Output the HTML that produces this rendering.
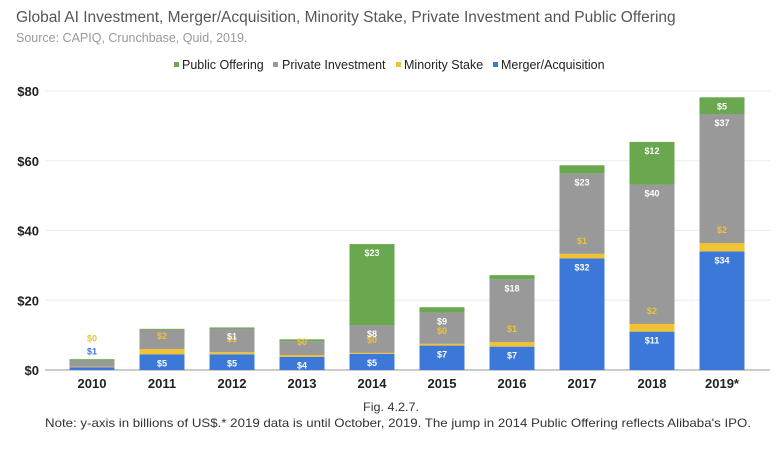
<!DOCTYPE html>
<html><head><meta charset="utf-8"><style>
body{margin:0;background:#fff;}
svg{display:block;font-family:"Liberation Sans",Arial,sans-serif;}
</style></head><body>
<svg id="chart" width="782" height="450" viewBox="0 0 782 450" xmlns="http://www.w3.org/2000/svg">
<text x="16" y="22" font-size="15.5" fill="#555">Global AI Investment, Merger/Acquisition, Minority Stake, Private Investment and Public Offering</text>
<text x="16" y="42" font-size="12.5" fill="#999">Source: CAPIQ, Crunchbase, Quid, 2019.</text>
<g font-size="12.5" fill="#222">
<g><rect x="174" y="62" width="5" height="5" fill="#6aa84f"/><text x="182" y="69">Public Offering</text></g>
<g><rect x="273" y="62" width="5" height="5" fill="#999"/><text x="282" y="69">Private Investment</text></g>
<g><rect x="396" y="62" width="5" height="5" fill="#f1c232"/><text x="404" y="69">Minority Stake</text></g>
<g><rect x="493" y="62" width="5" height="5" fill="#3c78d8"/><text x="501" y="69">Merger/Acquisition</text></g>
</g>
<g id="grid"></g>
<g id="bars"></g>
<g id="labels"></g>
<text x="391" y="411" font-size="12" fill="#333" text-anchor="middle" textLength="56" lengthAdjust="spacingAndGlyphs">Fig. 4.2.7.</text>
<text x="45" y="427" font-size="12" fill="#333" textLength="706" lengthAdjust="spacingAndGlyphs">Note:  y-axis in billions of US$.* 2019 data is until October, 2019. The jump in 2014 Public Offering reflects Alibaba's IPO.</text>
</svg>
<script>
const years = ["2010","2011","2012","2013","2014","2015","2016","2017","2018","2019*"];
const mergerAcq = [0.8,4.5,4.5,3.8,4.6,7.0,6.7,32.0,11.0,34.0];
const minorityStake = [0.1,1.5,0.6,0.5,0.3,0.5,1.3,1.3,2.2,2.4];
const privateInv = [1.8,5.5,6.8,4.0,8.0,9.0,18.0,23.0,40.0,37.0];
const publicOff = [0.4,0.3,0.3,0.5,23.2,1.5,1.2,2.4,12.2,4.8];
const maLabels = ["$1","$5","$5","$4","$5","$7","$7","$32","$11","$34"];
const msLabels = ["$0","$2","$1","$0","$0","$0","$1","$1","$2","$2"];
const piLabels = ["","","","","$8","$9","$18","$23","$40","$37"];
const poLabels = ["","","$1","","$23","","","","$12","$5"];
const yTicks = [0,20,40,60,80];
const yTickLabels = ["$0","$20","$40","$60","$80"];

const NS="http://www.w3.org/2000/svg";
const x0=45, x1=770, yBase=370, yTop=91, yMax=80;
const step=70, bw=45, firstCenter=92;
const y=v=>yBase-(v/yMax)*(yBase-yTop);
const xc=i=>firstCenter+step*i;
function mk(tag,parent){const e=document.createElementNS(NS,tag);parent.appendChild(e);return e;}
const grid=document.getElementById('grid'),bars=document.getElementById('bars'),labels=document.getElementById('labels');
yTicks.forEach((t,i)=>{
  const l=mk('line',grid);
  
  
  l.setAttribute('x1',x0);l.setAttribute('x2',x1);l.setAttribute('y1',y(t));l.setAttribute('y2',y(t));
  l.setAttribute('stroke',t===0?'#999':'#ececec');l.setAttribute('stroke-width','1');
  const tx=mk('text',grid);
  
  
  tx.setAttribute('x',39);tx.setAttribute('y',y(t)+5);tx.setAttribute('text-anchor','end');
  tx.setAttribute('font-size','13');tx.setAttribute('font-weight','bold');tx.setAttribute('fill','#222');
  tx.textContent=yTickLabels[i];
});
const series=[[mergerAcq,'#3c78d8',maLabels,'#fff'],[minorityStake,'#f1c232',msLabels,'#f1c232'],[privateInv,'#999',piLabels,'#fff'],[publicOff,'#6aa84f',poLabels,'#fff']];
years.forEach((yr,i)=>{
  let acc=0;
  series.forEach((s,k)=>{
    const v=s[0][i];const top=y(acc+v),bot=y(acc);
    const r=mk('rect',bars);
    
    
    r.setAttribute('x',xc(i)-bw/2);r.setAttribute('y',top);r.setAttribute('width',bw);r.setAttribute('height',Math.max(bot-top,0.5));
    r.setAttribute('fill',s[1]);
    const lab=s[2][i];
    if(lab){
      let ly;
      if(k===1) ly=top-10;
      else ly=top+12;
      if(i===0){ if(k===0) ly=y(acc+v+2.5)-4; if(k===1) ly=y(acc+v+5)-8; }
      const t=mk('text',labels);
      
      
      t.setAttribute('x',xc(i));t.setAttribute('y',ly);t.setAttribute('text-anchor','middle');
      t.setAttribute('font-size','9');t.setAttribute('font-weight','bold');
      t.setAttribute('fill',(i===0&&k===0)?'#3c78d8':s[3]);
      t.textContent=lab;
    }
    acc+=v;
  });
  const tx=mk('text',grid);
  
  
  tx.setAttribute('x',xc(i));tx.setAttribute('y',388);tx.setAttribute('text-anchor','middle');
  tx.setAttribute('font-size','13');tx.setAttribute('font-weight','bold');tx.setAttribute('fill','#222');
  tx.textContent=yr;
});
</script>
</body></html>
